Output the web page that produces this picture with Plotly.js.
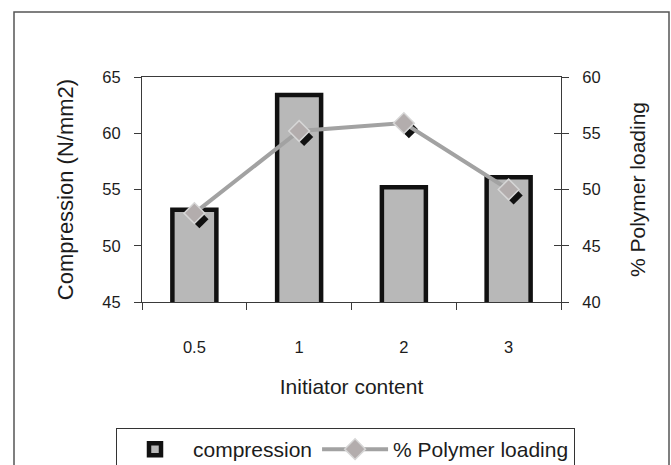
<!DOCTYPE html>
<html>
<head>
<meta charset="utf-8">
<script src="https://cdn.plot.ly/plotly-3.0.1.min.js"></script>
<style>
html,body{margin:0;padding:0;background:#fff;}
#chart{width:671px;height:465px;}
</style>
</head>
<body>
<div id="chart"></div>
<script>
// ---- data ----
var categories = ['0.5', '1', '2', '3'];
var compression = [53.2, 63.4, 55.2, 56.1];
var polymerLoading = [47.9, 55.2, 55.9, 50.0];
var leftTicks = [45, 50, 55, 60, 65];
var rightTicks = [40, 45, 50, 55, 60];

var FONT = 'Liberation Sans, Arial, sans-serif';
var TXT = '#1c1c1c';
var AX = '#3a3a3a';

// plot area geometry (px)
var L = 142, R = 105, T = 77, B = 157, W = 671, H = 465;
var PW = W - L - R, PH = H - T - B;
var SX = 5, SY = 6; // shadow offset in px
function px2x(p){ return (p - L) / PW; }
function px2y(p){ return (H - B - p) / PH; }
var mainXDomain = [0, (PW - SX) / PW];
var mainYDomain = [SY / PH, 1];

var traces = [
  {
    type: 'bar', name: 'compression',
    x: categories, y: compression,
    xaxis: 'x', yaxis: 'y',
    marker: {color: '#b8b8b8', line: {color: '#111111', width: 4.5}}
  },
  {
    type: 'scatter', mode: 'markers', name: 'shadow', showlegend: false,
    x: categories, y: polymerLoading,
    xaxis: 'x3', yaxis: 'y3',
    marker: {symbol: 'diamond', size: 14, color: '#111111'},
    hoverinfo: 'skip'
  },
  {
    type: 'scatter', mode: 'lines+markers', name: '% Polymer loading',
    x: categories, y: polymerLoading,
    xaxis: 'x5', yaxis: 'y5',
    line: {color: '#a2a2a2', width: 4},
    marker: {symbol: 'diamond', size: 16, color: '#b3adad', line: {color: '#d6d6d6', width: 1.5}}
  }
];

var layout = {
  width: W, height: H,
  margin: {l: L, r: R, t: T, b: B, autoexpand: false},
  paper_bgcolor: '#ffffff', plot_bgcolor: 'rgba(0,0,0,0)',
  font: {family: FONT, color: TXT, size: 16},
  showlegend: true,
  bargap: 0.58,
  xaxis: {
    type: 'category', range: [-0.5, 3.5],
    domain: mainXDomain, anchor: 'y',
    tickson: 'boundaries', ticks: 'outside', ticklen: 7, tickcolor: AX,
    showline: true, linecolor: AX, linewidth: 1, mirror: true,
    showgrid: false, zeroline: false,
    ticklabelstandoff: 30,
    tickfont: {size: 16.5, family: FONT, color: TXT},
    title: {text: 'Initiator content', font: {size: 21, family: FONT, color: TXT}, standoff: 24}
  },
  yaxis: {
    range: [45, 65], tickvals: leftTicks, ticktext: leftTicks.map(String),
    domain: mainYDomain, anchor: 'x',
    ticks: 'outside', ticklen: 7, tickcolor: AX,
    showline: true, linecolor: AX, linewidth: 1, mirror: 'allticks',
    showgrid: false, zeroline: false,
    ticklabelstandoff: 10,
    tickfont: {size: 16.5, family: FONT, color: TXT},
    title: {text: 'Compression (N/mm2)', font: {size: 22, family: FONT, color: TXT}, standoff: 22}
  },
  xaxis3: {
    type: 'category', range: [-0.5, 3.5], domain: [SX / PW, 1], anchor: 'y3', visible: false
  },
  yaxis3: {
    range: [40, 60], domain: [0, (PH - SY) / PH], anchor: 'x3', visible: false
  },
  xaxis5: {
    type: 'category', range: [-0.5, 3.5], domain: mainXDomain, anchor: 'y5', visible: false
  },
  yaxis5: {
    range: [40, 60], tickvals: rightTicks, ticktext: rightTicks.map(String),
    domain: mainYDomain, anchor: 'x5', side: 'right',
    ticks: 'inside', ticklen: 7, tickcolor: AX,
    showline: true, linecolor: AX, linewidth: 1,
    showgrid: false, zeroline: false,
    ticklabelstandoff: 17,
    tickfont: {size: 16.5, family: FONT, color: TXT},
    title: {text: '% Polymer loading', font: {size: 21, family: FONT, color: TXT}, standoff: 30}
  },
  legend: {
    orientation: 'h', x: px2x(116), xanchor: 'left', y: px2y(428), yanchor: 'top',
    bordercolor: '#333333', borderwidth: 1, bgcolor: '#ffffff',
    font: {size: 21, family: FONT, color: TXT},
    itemwidth: 66, tracegroupgap: 0
  },
  shapes: [
    {type: 'rect', xref: 'paper', yref: 'paper',
     x0: px2x(14), x1: px2x(669), y0: px2y(475), y1: px2y(12),
     line: {color: '#555555', width: 1.5}, fillcolor: 'rgba(0,0,0,0)', layer: 'below'}
  ]
};

Plotly.newPlot('chart', traces, layout, {displayModeBar: false, staticPlot: true});
</script>
</body>
</html>
